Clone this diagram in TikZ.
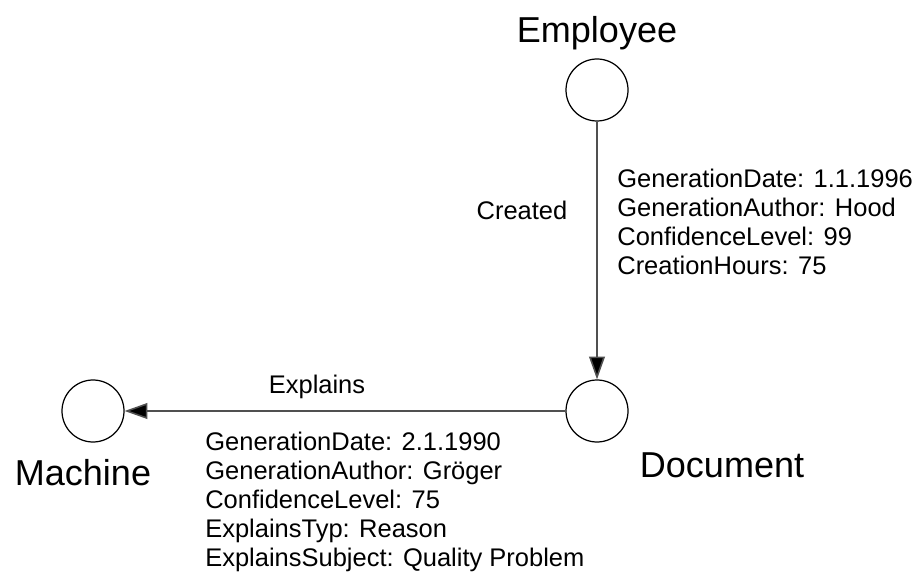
\documentclass[tikz,border=0pt]{standalone}
\usepackage{fontspec}
\setmainfont{Liberation Sans}
\usetikzlibrary{positioning, arrows.meta}
\definecolor{edgegray}{HTML}{505050}

\begin{document}
\begin{tikzpicture}[x=0.02cm, y=-0.02cm,
    entity/.style={draw=black, line width=0.7pt, circle, minimum size=62*0.02cm, inner sep=0pt},
    bigname/.style={font=\fontsize{20.5}{24}\selectfont},
    relname/.style={font=\fontsize{14.5}{16.5}\selectfont},
    attribs/.style={font=\fontsize{14.5}{16.6}\selectfont, align=left, anchor=west, inner sep=0pt},
    relation/.style={draw=edgegray, line width=0.9pt, -{Triangle[length=13pt, width=9pt, fill=black]}}]
    \useasboundingbox (0,0) rectangle (915,577);
    % entities
    \node[entity] (employee) at (597,90) {};
    \node[entity] (document) at (597,411) {};
    \node[entity] (machine) at (93,411) {};
    \node[bigname] (employeename) at (597,33) {Employee};
    \node[bigname] (documentname) at (722,465) {Document};
    \node[bigname] (machinename) at (83,473) {Machine};
    % relations
    \draw[relation] (employee) -- (document);
    \draw[relation] (document) -- (machine);
    \node[relname] (created) at (522,210) {Created};
    \node[relname] (explains) at (317,387) {Explains};
    \node[attribs] (createdattr) at (617,222)
      {GenerationDate: 1.1.1996\\ GenerationAuthor: Hood\\ ConfidenceLevel: 99\\ CreationHours: 75};
    \node[attribs] (explainsattr) at (205,502)
      {GenerationDate: 2.1.1990\\ GenerationAuthor: Gröger\\ ConfidenceLevel: 75\\ ExplainsTyp: Reason\\ ExplainsSubject: Quality Problem};
\end{tikzpicture}
\end{document}
